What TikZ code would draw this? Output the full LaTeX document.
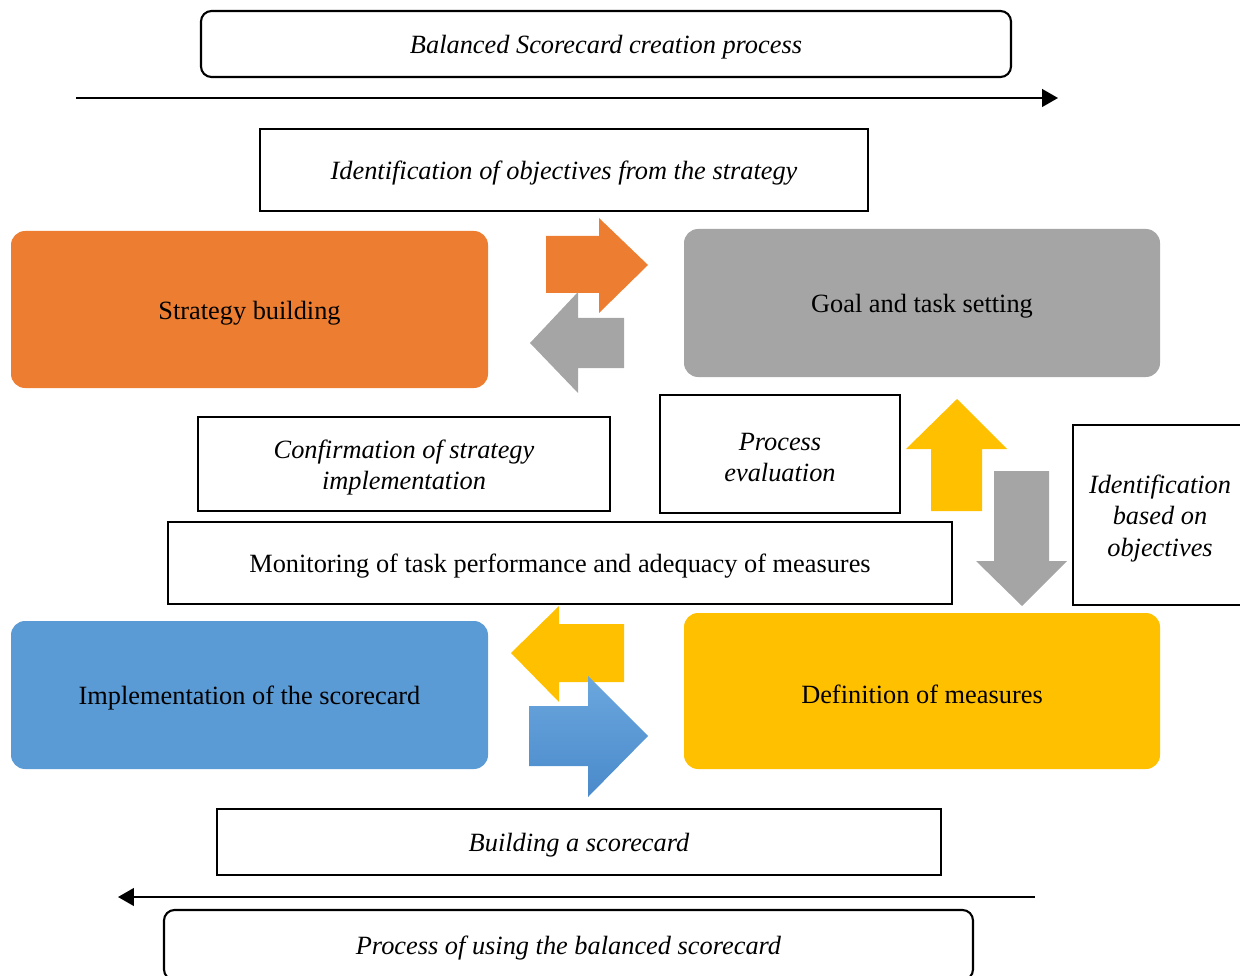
\documentclass[tikz,border=0pt]{standalone}
\usepackage{fontspec}
\setmainfont{Liberation Serif}
\usetikzlibrary{fit,arrows.meta}
\definecolor{cOrange}{HTML}{ED7D31}
\definecolor{cGray}{HTML}{A5A5A5}
\definecolor{cBlue}{HTML}{5B9BD5}
\definecolor{cBlueTop}{HTML}{6BA7DE}
\definecolor{cBlueBot}{HTML}{4A8ACB}
\definecolor{cYellow}{HTML}{FFC000}
\tikzset{
  txt/.style={font=\fontsize{15}{18}\selectfont, align=center, inner sep=0pt, yshift=-2pt},
  itxt/.style={font=\fontsize{15}{18}\selectfont\itshape, align=center, inner sep=0pt, yshift=-2pt},
  framebox/.style={draw=black, line width=1.2pt, inner sep=0pt},
  roundbox/.style={framebox, rounded corners=6pt},
  colbox/.style={inner sep=0pt, rounded corners=8pt},
  flow/.style={line width=1.2pt, -{Triangle[length=9pt,width=10pt]}},
}
\begin{document}
\begin{tikzpicture}[x=0.02cm,y=-0.02cm]
\useasboundingbox (0,0) rectangle (1240,976);
% top process box and arrow
\node[roundbox, fit={(201,11) (1011,77)}, label={[itxt]center:Balanced Scorecard creation process}] (create) {};
\coordinate (topL) at (76,98);
\coordinate (topR) at (1058,98);
\draw[flow] (topL) -- (topR);
\node[framebox, fit={(260,129) (868,211)}, label={[itxt]center:Identification of objectives from the strategy}] (ident) {};
% coloured boxes
\node[colbox, fill=cOrange, fit={(11,231) (488,388)}, label={[txt]center:Strategy building}] (strat) {};
\node[colbox, fill=cGray, fit={(684,229) (1160,377)}, label={[txt]center:Goal and task setting}] (goal) {};
\node[colbox, fill=cBlue, fit={(11,621) (488,769)}, label={[txt]center:Implementation of the scorecard}] (impl) {};
\node[colbox, fill=cYellow, fit={(684,613) (1160,769)}, label={[txt]center:Definition of measures}] (defm) {};
% label boxes
\node[framebox, fit={(198,417) (610,511)}, label={[itxt]center:Confirmation of strategy\\implementation}] (confirm) {};
\node[framebox, fit={(660,395) (900,513)}, label={[itxt]center:Process\\evaluation}] (proc) {};
\node[framebox, fit={(1073,425) (1247,605)}, label={[itxt]center:Identification\\based on\\objectives}] (idobj) {};
\node[framebox, fit={(168,522) (952,604)}, label={[txt]center:Monitoring of task performance and adequacy of measures}] (monit) {};
\node[framebox, fit={(217,809) (941,875)}, label={[itxt]center:Building a scorecard}] (build) {};
\coordinate (botR) at (1035,897);
\coordinate (botL) at (118,897);
\draw[flow] (botR) -- (botL);
\node[roundbox, fit={(164,910) (973,980)}, label={[itxt]center:Process of using the balanced scorecard}] (usebsc) {};
% block arrows
\fill[cOrange] (546,236) -- (599,236) -- (599,218) -- (648,265) -- (599,313) -- (599,293) -- (546,293) -- cycle;
\fill[cGray] (624,318) -- (578,318) -- (578,292) -- (530,343) -- (578,393) -- (578,368) -- (624,368) -- cycle;
\fill[cYellow] (624,624) -- (559,624) -- (559,606) -- (511,653) -- (559,702) -- (559,682) -- (624,682) -- cycle;
\shade[top color=cBlueTop, bottom color=cBlueBot] (529,706) -- (588,706) -- (588,676) -- (648,736) -- (588,797) -- (588,766) -- (529,766) -- cycle;
\fill[cYellow] (931,511) -- (931,449) -- (906,449) -- (957,399) -- (1007,449) -- (982,449) -- (982,511) -- cycle;
\fill[cGray] (994,471) -- (1049,471) -- (1049,561) -- (1067,561) -- (1022,606) -- (976,561) -- (994,561) -- cycle;
\end{tikzpicture}
\end{document}
